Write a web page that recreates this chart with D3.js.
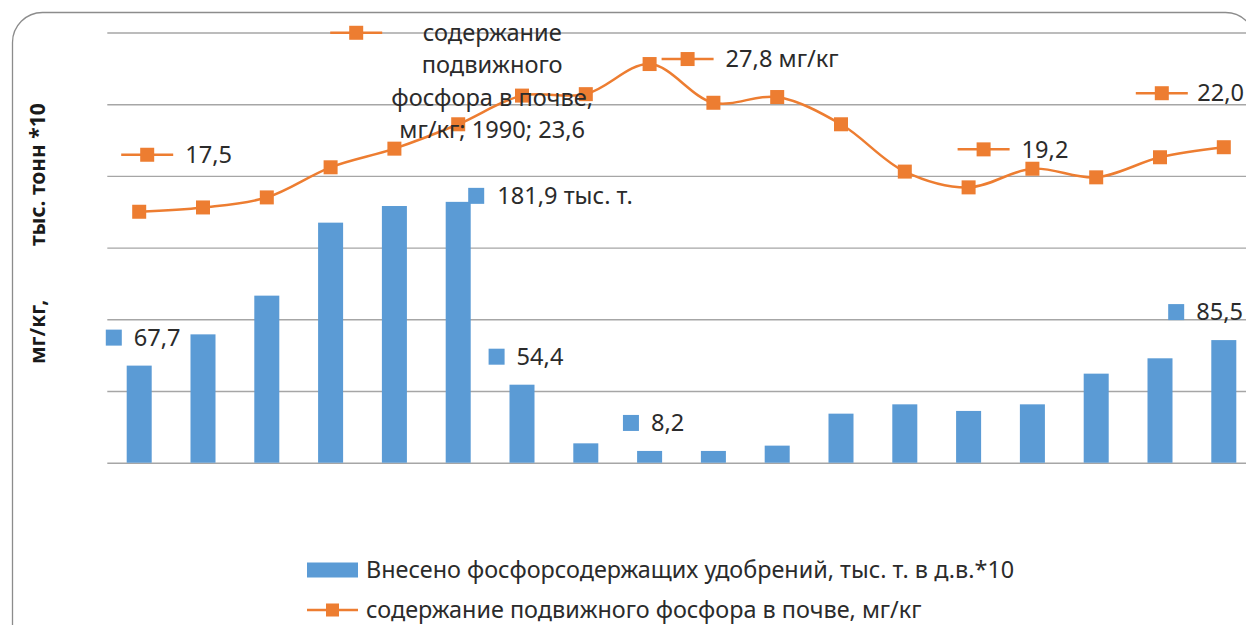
<!DOCTYPE html>
<html>
<head>
<meta charset="utf-8">
<script src="https://cdn.jsdelivr.net/npm/d3@7"></script>
<style>
  body { margin: 0; background: #ffffff; }
  svg { display: block; font-family: "Noto Sans", sans-serif; }
</style>
</head>
<body>
<svg id="chart" width="1246" height="625"></svg>
<script>
// ---- data ----
const years = [1985, 1986, 1987, 1988, 1989, 1990, 1991, 1992, 1993,
               1994, 1995, 1996, 1997, 1998, 1999, 2000, 2001, 2002];
// phosphate fertilizer applied, thousand t of active substance * 10
const fertilizer = [67.7, 89.5, 116.5, 167.4, 179.0, 181.9, 54.4, 13.5, 8.2,
                    8.2, 11.9, 34.2, 40.7, 36.1, 40.7, 62.1, 72.8, 85.5];
// mobile phosphorus content in soil, mg/kg
const phosphorus = [17.5, 17.8, 18.5, 20.6, 21.9, 23.6, 25.6, 25.7, 27.8,
                    25.1, 25.5, 23.6, 20.3, 19.2, 20.5, 19.9, 21.3, 22.0];
const gridTicks = [0, 50, 100, 150, 200, 250, 300];
const seriesNames = [
  "Внесено фосфорсодержащих удобрений, тыс. т. в д.в.*10",
  "содержание подвижного фосфора в почве, мг/кг"
];
const axisTitle = ["мг/кг,", "тыс. тонн *10"];

// ---- layout ----
const W = 1246, H = 625;
const plot = { left: 107.3, right: 1255.7, top: 32.5, bottom: 462.7 };
const BAR = "#5B9BD5", LINE = "#ED7D31", TEXT = "#2b2b2b", GRID = "#a6a6a6";
const FONT = 23.6;

const svg = d3.select("#chart");
const fmt = v => d3.format(".1f")(v).replace(".", ",");

const x = d3.scaleBand().domain(years)
  .range([plot.left, plot.right])
  .paddingInner(0.608).paddingOuter(0.304);
const cx = i => x(years[i]) + x.bandwidth() / 2;
const y = d3.scaleLinear().domain([0, 300]).range([plot.bottom, plot.top]);
const y2 = d3.scaleLinear().domain([0, 30]).range([plot.bottom, plot.top]);

// chart frame
svg.append("rect")
  .attr("x", 12.5).attr("y", 12.5)
  .attr("width", 1243).attr("height", 700)
  .attr("rx", 30).attr("ry", 30)
  .attr("fill", "none").attr("stroke", "#8c8c8c").attr("stroke-width", 1.3);

// horizontal gridlines
svg.append("g")
  .attr("transform", `translate(${plot.left},0)`)
  .call(d3.axisLeft(y).tickValues(gridTicks)
        .tickSize(-(plot.right - plot.left)).tickFormat(""))
  .call(g => g.select(".domain").remove())
  .call(g => g.selectAll("line").attr("stroke", GRID).attr("stroke-width", 1.4));

// bars
svg.append("g").selectAll("rect")
  .data(fertilizer)
  .join("rect")
  .attr("x", (d, i) => x(years[i]))
  .attr("width", x.bandwidth())
  .attr("y", d => y(d))
  .attr("height", d => y(0) - y(d))
  .attr("fill", BAR);

// smoothed line with square markers
const line = d3.line()
  .x((d, i) => cx(i))
  .y(d => y2(d))
  .curve(d3.curveCatmullRom);
svg.append("path")
  .datum(phosphorus)
  .attr("d", line)
  .attr("fill", "none").attr("stroke", LINE).attr("stroke-width", 2.5);

const MK = 14;
svg.append("g").selectAll("rect")
  .data(phosphorus)
  .join("rect")
  .attr("x", (d, i) => cx(i) - MK / 2)
  .attr("y", d => y2(d) - MK / 2)
  .attr("width", MK).attr("height", MK)
  .attr("fill", LINE);

// ---- legend keys used by the data labels and the legend ----
function lineKey(g, x0, yc, len, mk) {
  g.append("line").attr("x1", x0).attr("x2", x0 + len)
    .attr("y1", yc).attr("y2", yc)
    .attr("stroke", LINE).attr("stroke-width", 2.5);
  g.append("rect").attr("x", x0 + len / 2 - mk / 2).attr("y", yc - mk / 2)
    .attr("width", mk).attr("height", mk).attr("fill", LINE);
}
function barKey(g, x0, yc, w, h) {
  g.append("rect").attr("x", x0).attr("y", yc - h / 2)
    .attr("width", w).attr("height", h).attr("fill", BAR);
}
function addText(g, tx, ty, str, anchor, size) {
  return g.append("text").attr("x", tx).attr("y", ty)
    .attr("dy", "0.35em")
    .attr("text-anchor", anchor || "start")
    .attr("font-size", size || FONT).attr("fill", TEXT)
    .text(str);
}

const labels = svg.append("g");

// bar data labels: key square + value, centred above the bar
const barLabels = [
  { i: 0, text: fmt(fertilizer[0]) },
  { i: 6, text: fmt(fertilizer[6]) },
  { i: 8, text: fmt(fertilizer[8]) },
  { i: 17, text: fmt(fertilizer[17]) }
];
barLabels.forEach(l => {
  const g = labels.append("g");
  const yc = y(fertilizer[l.i]) - 28;
  const t = addText(g, 0, yc, l.text);
  const tw = t.node().getComputedTextLength();
  const total = 16 + 12 + tw;
  let left = cx(l.i) + 4 - total / 2;
  left = Math.min(left, W - 3 - total);
  barKey(g, left, yc, 16, 16);
  t.attr("x", left + 28);
});
// moved label on the 1990 bar
{
  const g = labels.append("g");
  const i = 5;
  const left = cx(i) + 10, yc = y(fertilizer[i]) - 6;
  barKey(g, left, yc, 16, 16);
  addText(g, left + 29, yc, `${fmt(fertilizer[i])} тыс. т.`);
}

// line data labels: key + value
const lineLabels = [
  { i: 0, dx: -18, dy: -57, text: fmt(phosphorus[0]) },
  { i: 8, dx: 12, dy: -5, text: `${fmt(phosphorus[8])} мг/кг` },
  { i: 13, dx: -11, dy: -38, text: fmt(phosphorus[13]) },
  { i: 17, dx: -88, dy: -54, text: fmt(phosphorus[17]) }
];
lineLabels.forEach(l => {
  const g = labels.append("g");
  const left = cx(l.i) + l.dx, yc = y2(phosphorus[l.i]) + l.dy;
  lineKey(g, left, yc, 52, 14);
  const t = addText(g, left + 64, yc, l.text);
  const over = left + 64 + t.node().getComputedTextLength() - (W - 2);
  if (over > 0) t.attr("x", left + 64 - over);
});
// wrapped label with series name, category and value for 1990
{
  const i = 5;
  const g = labels.append("g");
  const left = cx(i) - 128, yTop = y2(phosphorus[i]) - 91.5;
  lineKey(g, left, yTop, 52, 14);
  const lines = ["содержание", "подвижного", "фосфора в почве,",
                 `мг/кг; ${years[i]}; ${fmt(phosphorus[i])}`];
  lines.forEach((s, k) => addText(g, left + 162, yTop + k * 32.4, s, "middle"));
}

// ---- legend ----
const legend = svg.append("g");
barKey(legend, 307, 570, 51, 15);
addText(legend, 366, 570, seriesNames[0], "start", 23.4);
lineKey(legend, 307, 610, 51, 13);
addText(legend, 366, 610, seriesNames[1], "start", 23.4);

// ---- rotated axis title ----
const title = svg.append("text")
  .attr("transform", "translate(45,364) rotate(-90)")
  .attr("font-size", 21).attr("font-weight", "bold").attr("fill", "#1a1a1a");
title.append("tspan").attr("x", 0).text(axisTitle[0]);
title.append("tspan").attr("x", 118).text(axisTitle[1]);
</script>
</body>
</html>
